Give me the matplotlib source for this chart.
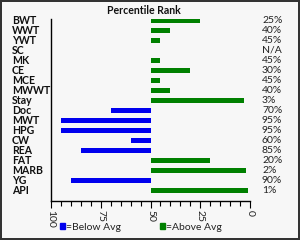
import matplotlib
matplotlib.use("Agg")
import matplotlib.pyplot as plt
import matplotlib.transforms as mtransforms
from matplotlib.ticker import MultipleLocator

categories = ["BWT", "WWT", "YWT", "SC", "MK", "CE", "MCE", "MWWT", "Stay",
              "Doc", "MWT", "HPG", "CW", "REA", "FAT", "MARB", "YG", "API"]
percentiles = [25, 40, 45, None, 45, 30, 45, 40, 3,
               70, 95, 95, 60, 85, 20, 2, 90, 1]
pct_labels = ["25%", "40%", "45%", "N/A", "45%", "30%", "45%", "40%", "3%",
              "70%", "95%", "95%", "60%", "85%", "20%", "2%", "90%", "1%"]
x_ticks = [100, 75, 50, 25, 0]
average = 50

BLUE = "#0000ee"
GREEN = "#008000"
FONT = ["Lato", "DejaVu Sans"]

plt.rcParams["font.family"] = FONT

fig = plt.figure(figsize=(3.0, 2.4), dpi=100)
fig.patch.set_facecolor("#f7f7f7")
fig.patch.set_edgecolor("#333333")
fig.patch.set_linewidth(1.5)

ax = fig.add_axes([51 / 300, 1 - 200.7 / 240, 199 / 300, 181.5 / 240])
ax.set_facecolor("none")

for i, (cat, v) in enumerate(zip(categories, percentiles)):
    if v is None:
        continue
    color = BLUE if v > average else GREEN
    ax.barh(i, v - average, left=average, height=0.5, color=color, linewidth=0)

ax.set_xlim(100, 0)
ax.set_ylim(len(categories), -0.1)

for s in ["top", "right"]:
    ax.spines[s].set_visible(False)
for s in ["left", "bottom"]:
    ax.spines[s].set_color("black")
    ax.spines[s].set_linewidth(1.0)

ax.set_yticks([])
ax.set_xticks(x_ticks)
ax.set_xticklabels([str(t) for t in x_ticks], rotation=-90, fontsize=7.5, color="#222222")
ax.xaxis.set_minor_locator(MultipleLocator(5))
ax.tick_params(axis="x", which="major", direction="out", length=5, width=0.8, pad=1.5)
ax.tick_params(axis="x", which="minor", direction="out", length=3.5, width=0.8)

trans_left = mtransforms.blended_transform_factory(fig.transFigure, ax.transData)
for i, cat in enumerate(categories):
    ax.text(12 / 300, i, cat, transform=trans_left, ha="left", va="center",
            fontsize=7.6, fontweight="bold", color="#111111")
    ax.text(262 / 300, i, pct_labels[i], transform=trans_left, ha="left", va="center",
            fontsize=7.5, color="#222222")

fig.text(144 / 300, 1 - 11 / 240, "Percentile Rank", ha="center", va="center",
         fontsize=7.6, fontweight="bold", color="#111111")

# legend
fig.patches.append(plt.Rectangle((60 / 300, 1 - 229 / 240), 5 / 300, 6 / 240,
                                 transform=fig.transFigure, color=BLUE, figure=fig))
fig.text(66 / 300, 1 - 227.5 / 240, "=Below Avg", ha="left", va="center",
         fontsize=7.5, color="#222222")
fig.patches.append(plt.Rectangle((160 / 300, 1 - 229 / 240), 5 / 300, 6 / 240,
                                 transform=fig.transFigure, color=GREEN, figure=fig))
fig.text(166 / 300, 1 - 227.5 / 240, "=Above Avg", ha="left", va="center",
         fontsize=7.5, color="#222222")

fig.savefig("out.png", dpi=100, facecolor=fig.get_facecolor(), edgecolor=fig.get_edgecolor())
